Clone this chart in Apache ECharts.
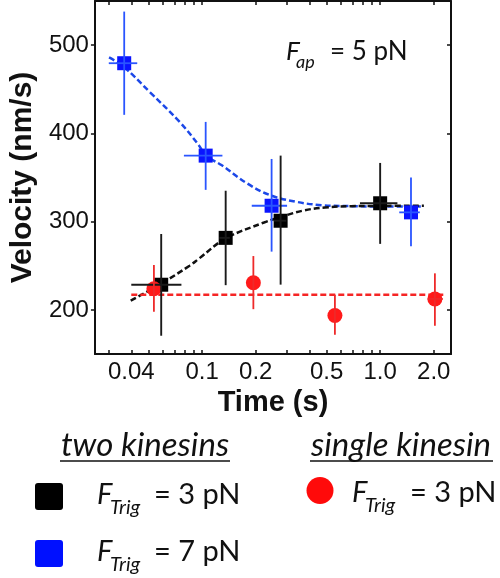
<!DOCTYPE html>
<html>
<head>
<meta charset="utf-8">
<script src="https://cdn.jsdelivr.net/npm/echarts@6/dist/echarts.min.js"></script>
<style>html,body{margin:0;padding:0;background:#fff}#c{width:500px;height:578px}</style>
</head>
<body>
<div id="c"></div>
<script>
// ---- data ----
const blueX   = [0.0365, 0.1047, 0.2456, 1.49];
const blueY   = [479.5, 374.8, 318, 310.5];
const blueXLo = [0.0299, 0.079, 0.19, 1.28];
const blueXHi = [0.0432, 0.130, 0.30, 1.67];
const blueYLo = [421, 336, 266, 272];
const blueYHi = [538, 413, 371, 350];

const blackX   = [0.0589, 0.1356, 0.276, 1.0];
const blackY   = [228.5, 281.6, 301, 320.8];
const blackXLo = [0.040, 0.125, 0.253, 0.77];
const blackXHi = [0.0765, 0.143, 0.297, 1.25];
const blackYLo = [170.7, 228, 228.6, 274.8];
const blackYHi = [286, 335, 374.8, 366.5];

const redX   = [0.0536, 0.194, 0.557, 2.03];
const redY   = [224, 230.7, 193.6, 212.4];
const redXLo = [0.0536, 0.194, 0.557, 1.85];
const redXHi = [0.0536, 0.194, 0.557, 2.25];
const redYLo = [198, 200.8, 171.8, 182];
const redYHi = [250.8, 261, 217, 241.4];

const blueFitX = [0.030, 0.036, 0.051, 0.075, 0.096, 0.105, 0.129, 0.18, 0.241, 0.337, 0.472, 0.7, 1.0, 1.76];
const blueFitY = [486, 476, 446.5, 412.7, 386.3, 375, 363.8, 343, 330, 322.5, 318.6, 317.5, 317.2, 317];
const blackFitX = [0.0397, 0.0583, 0.085, 0.0963, 0.1346, 0.2225, 0.274, 0.367, 0.49, 0.687, 1.0, 1.76];
const blackFitY = [210.5, 229.3, 250, 258.3, 280.5, 299, 305, 312.4, 316, 317.5, 317.8, 318];
const redFitX = [0.04, 2.3];
const redFitY = [217, 217];

const xTickVals  = [0.03,0.04,0.05,0.06,0.07,0.08,0.09,0.1,0.2,0.3,0.4,0.5,0.6,0.7,0.8,0.9,1,2];
const xLabelVals = [0.04, 0.1, 0.2, 0.5, 1, 2];
const xLabelText = ['0.04','0.1','0.2','0.5','1.0','2.0'];
const yTickVals  = [200, 300, 400, 500];

// ---- helpers ----
const zip = (a, b) => a.map((v, i) => [v, b[i]]);
const errData = (x, y, xl, xh, yl, yh) => x.map((v, i) => [v, y[i], xl[i], xh[i], yl[i], yh[i]]);
function errSeries(name, data, color, w) {
  return {
    type: 'custom', name: name, z: 5, silent: true,
    data: data,
    encode: { x: 0, y: 1 },
    renderItem: function (params, api) {
      const x = api.value(0), y = api.value(1);
      const ptop = api.coord([x, api.value(5)]);
      const pbot = api.coord([x, api.value(4)]);
      const pl = api.coord([api.value(2), y]);
      const pr = api.coord([api.value(3), y]);
      const st = { stroke: color, lineWidth: w };
      const ch = [{ type: 'line', shape: { x1: ptop[0], y1: ptop[1], x2: pbot[0], y2: pbot[1] }, style: st }];
      if (pr[0] - pl[0] > 1) ch.push({ type: 'line', shape: { x1: pl[0], y1: pl[1], x2: pr[0], y2: pr[1] }, style: st });
      return { type: 'group', children: ch };
    }
  };
}
function labelOf(v) {
  let best = 0, bd = Infinity;
  xLabelVals.forEach((lv, i) => { const d = Math.abs(Math.log(v) - Math.log(lv)); if (d < bd) { bd = d; best = i; } });
  return xLabelText[best];
}

const AX = '#111';
const tickFont = 'Liberation Sans, Arial, sans-serif';
const legFont = 'Lato, sans-serif';

const chart = echarts.init(document.getElementById('c'), null, { renderer: 'canvas' });
const option = {
  animation: false,
  backgroundColor: '#fff',
  grid: { left: 83, right: 49, top: 1, bottom: 224, containLabel: false },
  xAxis: [
    {
      type: 'log', logBase: 10, min: 0.025, max: 2.5, position: 'bottom',
      axisLine: { show: true, onZero: false, lineStyle: { color: AX, width: 2 } },
      axisTick: { show: true, inside: true, length: 4, customValues: xTickVals, lineStyle: { color: AX, width: 1.5 } },
      axisLabel: { show: true, customValues: xLabelVals, formatter: labelOf, fontSize: 24, color: AX, fontFamily: tickFont, margin: 6 },
      splitLine: { show: false }, minorTick: { show: false },
      name: 'Time (s)', nameLocation: 'middle', nameGap: 30,
      nameTextStyle: { fontSize: 29, fontWeight: 'bold', color: AX, fontFamily: tickFont }
    },
    {
      type: 'log', logBase: 10, min: 0.025, max: 2.5, position: 'top',
      axisLine: { show: true, onZero: false, lineStyle: { color: AX, width: 2 } },
      axisTick: { show: true, inside: true, length: 4, customValues: xTickVals, lineStyle: { color: AX, width: 1.5 } },
      axisLabel: { show: false }, splitLine: { show: false }
    }
  ],
  yAxis: [
    {
      type: 'value', min: 150, max: 550, position: 'left',
      axisLine: { show: true, onZero: false, lineStyle: { color: AX, width: 2 } },
      axisTick: { show: true, inside: false, length: 4, customValues: yTickVals, lineStyle: { color: AX, width: 1.5 } },
      axisLabel: { show: true, customValues: yTickVals, fontSize: 24, color: AX, fontFamily: tickFont, margin: 6 },
      splitLine: { show: false },
      name: 'Velocity (nm/s)', nameLocation: 'middle', nameGap: 54,
      nameTextStyle: { fontSize: 30, fontWeight: 'bold', color: AX, fontFamily: tickFont }
    },
    {
      type: 'value', min: 150, max: 550, position: 'right',
      axisLine: { show: true, onZero: false, lineStyle: { color: AX, width: 2 } },
      axisTick: { show: true, inside: true, length: 4, customValues: yTickVals, lineStyle: { color: AX, width: 1.5 } },
      axisLabel: { show: false }, splitLine: { show: false }
    }
  ],
  series: [
    { type: 'line', name: 'fit7', data: zip(blueFitX, blueFitY), smooth: 0.4, showSymbol: false, symbol: 'none', z: 2,
      lineStyle: { color: '#1c48e8', width: 2.5, type: [6, 3] } },
    { type: 'line', name: 'fit3', data: zip(blackFitX, blackFitY), smooth: 0.4, showSymbol: false, symbol: 'none', z: 2,
      lineStyle: { color: '#111', width: 2.5, type: [6, 3] } },
    { type: 'line', name: 'fitS', data: zip(redFitX, redFitY), showSymbol: false, symbol: 'none', z: 2,
      lineStyle: { color: '#f52525', width: 2.5, type: [6, 3] } },
    { type: 'scatter', name: 'two kinesins F=7', data: zip(blueX, blueY), symbol: 'rect', symbolSize: 14, z: 4,
      itemStyle: { color: '#0a14ff', opacity: 1 } },
    { type: 'scatter', name: 'two kinesins F=3', data: zip(blackX, blackY), symbol: 'rect', symbolSize: 14, z: 4,
      itemStyle: { color: '#000', opacity: 1 } },
    { type: 'scatter', name: 'single kinesin F=3', data: zip(redX, redY), symbol: 'circle', symbolSize: 15, z: 4,
      itemStyle: { color: '#ff1a1a', opacity: 1 } },
    errSeries('err7', errData(blueX, blueY, blueXLo, blueXHi, blueYLo, blueYHi), '#2a55ff', 1.8),
    errSeries('err3', errData(blackX, blackY, blackXLo, blackXHi, blackYLo, blackYHi), '#1a1a1a', 1.9),
    errSeries('errS', errData(redX, redY, redXLo, redXHi, redYLo, redYHi), '#ee2a2a', 1.8)
  ],
  graphic: [
    // annotation F_ap = 5 pN
    { type: 'text', x: 286, y: 52, style: { text: 'F', font: 'italic 26px ' + legFont, fill: '#111', verticalAlign: 'middle' } },
    { type: 'text', x: 296, y: 62, style: { text: 'ap', font: 'italic 18px ' + legFont, fill: '#111', verticalAlign: 'middle' } },
    { type: 'text', x: 330, y: 52, style: { text: '= 5 pN', font: '26px ' + legFont, fill: '#111', verticalAlign: 'middle' } },
    // legend headings
    { type: 'text', x: 145, y: 445, style: { text: 'two kinesins', font: 'italic 33px ' + legFont, fill: '#111', align: 'center', verticalAlign: 'middle' } },
    { type: 'line', shape: { x1: 60, y1: 461, x2: 230, y2: 461 }, style: { stroke: '#111', lineWidth: 1.5 } },
    { type: 'text', x: 401, y: 445, style: { text: 'single kinesin', font: 'italic 33px ' + legFont, fill: '#111', align: 'center', verticalAlign: 'middle' } },
    { type: 'line', shape: { x1: 310, y1: 461, x2: 493, y2: 461 }, style: { stroke: '#111', lineWidth: 1.5 } },
    // legend markers
    { type: 'rect', shape: { x: 35, y: 483, width: 28, height: 27, r: 3 }, style: { fill: '#000' } },
    { type: 'rect', shape: { x: 35, y: 540, width: 28, height: 27, r: 3 }, style: { fill: '#0010ff' } },
    { type: 'circle', shape: { cx: 320, cy: 490.5, r: 13.5 }, style: { fill: '#ff0a0a' } },
    // legend texts row 1
    { type: 'text', x: 97, y: 495, style: { text: 'F', font: 'italic 29px ' + legFont, fill: '#111', verticalAlign: 'middle' } },
    { type: 'text', x: 110, y: 508, style: { text: 'Trig', font: 'italic 20px ' + legFont, fill: '#111', verticalAlign: 'middle' } },
    { type: 'text', x: 154, y: 495, style: { text: '= 3 pN', font: '29px ' + legFont, fill: '#111', verticalAlign: 'middle' } },
    // row 2
    { type: 'text', x: 97, y: 552, style: { text: 'F', font: 'italic 29px ' + legFont, fill: '#111', verticalAlign: 'middle' } },
    { type: 'text', x: 110, y: 565, style: { text: 'Trig', font: 'italic 20px ' + legFont, fill: '#111', verticalAlign: 'middle' } },
    { type: 'text', x: 154, y: 552, style: { text: '= 7 pN', font: '29px ' + legFont, fill: '#111', verticalAlign: 'middle' } },
    // red
    { type: 'text', x: 352, y: 493, style: { text: 'F', font: 'italic 29px ' + legFont, fill: '#111', verticalAlign: 'middle' } },
    { type: 'text', x: 365, y: 506, style: { text: 'Trig', font: 'italic 20px ' + legFont, fill: '#111', verticalAlign: 'middle' } },
    { type: 'text', x: 410, y: 493, style: { text: '= 3 pN', font: '29px ' + legFont, fill: '#111', verticalAlign: 'middle' } }
  ]
};
chart.setOption(option);
</script>
</body>
</html>
